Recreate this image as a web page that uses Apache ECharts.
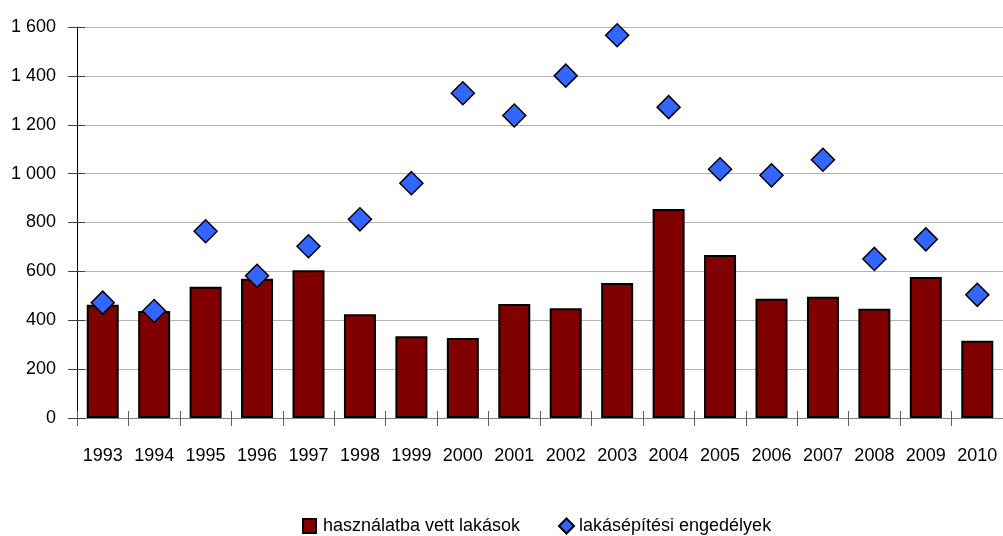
<!DOCTYPE html>
<html>
<head>
<meta charset="utf-8">
<script src="https://cdn.jsdelivr.net/npm/echarts@6/dist/echarts.min.js"></script>
<style>html,body{margin:0;padding:0;background:#fff;}#c{width:1003px;height:536px;}</style>
</head>
<body>
<div id="c"></div>
<script>
const categories = ['1993','1994','1995','1996','1997','1998','1999','2000','2001','2002','2003','2004','2005','2006','2007','2008','2009','2010'];
const hasznalatba = [463, 438, 537, 570, 605, 425, 335, 327, 466, 449, 552, 855, 667, 488, 496, 447, 577, 316];
const engedelyek = [472, 438, 764, 582, 703, 813, 961, 1329, 1238, 1401, 1566, 1272, 1018, 993, 1057, 651, 731, 504];
const seriesNames = ['használatba vett lakások', 'lakásépítési engedélyek'];

const FONT = "'Liberation Sans', Arial, sans-serif";
const FS = 18;
const chart = echarts.init(document.getElementById('c'));
chart.setOption({
  animation: false,
  backgroundColor: '#ffffff',
  textStyle: { fontFamily: FONT },
  grid: { left: 77, top: 27, width: 933, height: 391, containLabel: false },
  legend: [
    { data: [{ name: seriesNames[0], icon: 'rect' }], left: 302, top: 517, padding: 0,
      itemWidth: 13, itemHeight: 14,
      textStyle: { fontFamily: FONT, fontSize: FS, color: '#000', padding: [0, 0, 0, 2] } },
    { data: [{ name: seriesNames[1], icon: 'diamond' }], left: 558, top: 517, padding: 0,
      itemWidth: 15, itemHeight: 15,
      textStyle: { fontFamily: FONT, fontSize: FS, color: '#000' } }
  ],
  xAxis: [
    {
      type: 'category',
      data: categories,
      boundaryGap: true,
      axisLine: { show: true, lineStyle: { color: '#808080', width: 1 } },
      axisTick: { show: true, length: 8, lineStyle: { color: '#606060' } },
      axisLabel: { fontFamily: FONT, fontSize: FS, color: '#000', margin: 29, interval: 0 },
      splitLine: { show: false }
    },
    {
      type: 'category',
      data: categories,
      position: 'bottom',
      boundaryGap: true,
      axisLine: { show: false },
      axisTick: { show: true, inside: true, length: 7, lineStyle: { color: '#606060' } },
      axisLabel: { show: false },
      splitLine: { show: false }
    }
  ],
  yAxis: [
    {
      type: 'value',
      min: 0, max: 1600, interval: 200,
      axisLine: { show: true, lineStyle: { color: '#000', width: 1 } },
      axisTick: { show: true, length: 9, lineStyle: { color: '#404040' } },
      axisLabel: {
        fontFamily: FONT, fontSize: FS, color: '#000', margin: 21,
        formatter: v => v >= 1000 ? Math.floor(v / 1000) + ' ' + String(v % 1000).padStart(3, '0') : String(v)
      },
      splitLine: { show: true, lineStyle: { color: '#b3b3b3', width: 1 } }
    },
    {
      type: 'value',
      position: 'left',
      min: 0, max: 1600, interval: 200,
      axisLine: { show: false },
      axisTick: { show: true, inside: true, length: 8, lineStyle: { color: '#404040' } },
      axisLabel: { show: false },
      splitLine: { show: false }
    }
  ],
  series: [
    {
      name: seriesNames[0], type: 'bar', data: hasznalatba, barWidth: 32,
      itemStyle: { color: '#800000', borderColor: '#000', borderWidth: 2 }
    },
    {
      name: seriesNames[1], type: 'scatter', data: engedelyek, symbol: 'diamond', symbolSize: 23,
      itemStyle: { color: '#3366ff', borderColor: '#000', borderWidth: 1.5, opacity: 1 },
      z: 5
    }
  ]
});
</script>
</body>
</html>
